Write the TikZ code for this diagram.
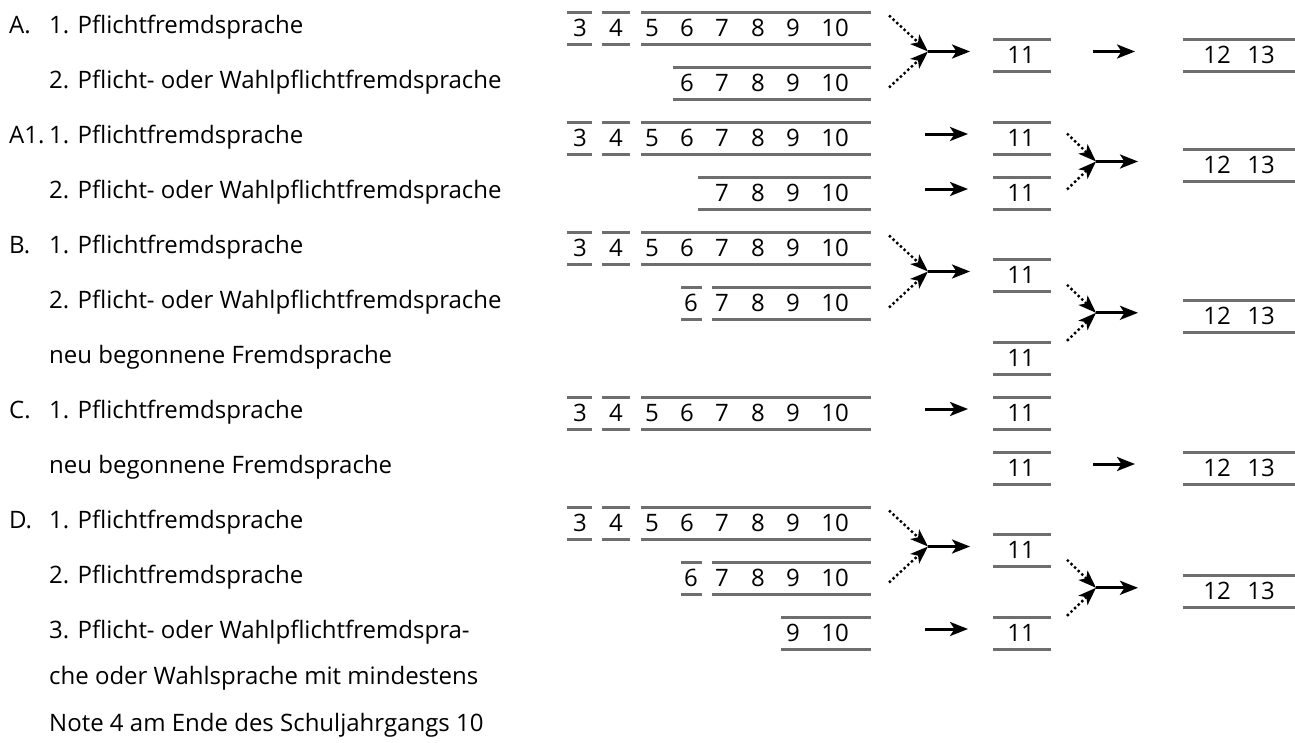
\documentclass[tikz,border=0pt]{standalone}
\usepackage{fontspec}
\setmainfont{Open Sans}
\usetikzlibrary{arrows.meta}

\tikzset{
  txt/.style={anchor=base west, inner sep=0pt, font=\fontsize{24}{24}\selectfont},
  num/.style={anchor=base, inner sep=0pt, font=\fontsize{24}{24}\selectfont},
  rule/.style={line width=3pt, draw=black!57},
  flow/.style={line width=3pt, -{Stealth[length=18pt,width=14pt,inset=4.5pt]}},
  feed/.style={line width=2.4pt, dash pattern=on 2.4pt off 2.6pt, -{Stealth[length=18pt,width=13pt,inset=4.5pt]}},
}

% box with "11" and box with "12 13"
\newcommand\eleven[2]{%
  \draw[rule] (993,{#2-16}) -- (1051,{#2-16}) (993,{#2+16}) -- (1051,{#2+16});
  \node[num] (#1) at (1021,{#2+8}) {11};}
\newcommand\twelve[2]{%
  \draw[rule] (1183,{#2-16}) -- (1295,{#2-16}) (1183,{#2+16}) -- (1295,{#2+16});
  \node[num] (#1a) at (1217,{#2+8}) {12};
  \node[num] (#1b) at (1261,{#2+8}) {13};}
% two dotted arrows meeting, then one arrow (a little above the box centre)
\newcommand\joinfirst[2]{%
  \coordinate (#1) at (928,{#2-4});
  \coordinate (#1u) at (889,{#2-40});
  \coordinate (#1d) at (889,{#2+32});
  \coordinate (#1e) at (970,{#2-4});
  \draw[feed] (#1u) -- (#1);
  \draw[feed] (#1d) -- (#1);
  \draw[flow] (#1) -- (#1e);}
\newcommand\joinsecond[2]{%
  \coordinate (#1) at (1096,{#2-4});
  \coordinate (#1u) at (1067,{#2-32});
  \coordinate (#1d) at (1067,{#2+24});
  \coordinate (#1e) at (1138,{#2-4});
  \draw[feed] (#1u) -- (#1);
  \draw[feed] (#1d) -- (#1);
  \draw[flow] (#1) -- (#1e);}
% single arrows
\newcommand\stepfirst[2]{%
  \coordinate (#1s) at (925,{#2-4}); \coordinate (#1e) at (968,{#2-4});
  \draw[flow] (#1s) -- (#1e);}
\newcommand\stepsecond[2]{%
  \coordinate (#1s) at (1093,{#2-4}); \coordinate (#1e) at (1135,{#2-4});
  \draw[flow] (#1s) -- (#1e);}

\begin{document}
\begin{tikzpicture}[x=1pt, y=-1pt]
  \useasboundingbox (0,0) rectangle (1295,742);

  % left column: labels and languages
  \foreach \i/\l in {0/A., 2/A1., 4/B., 7/C., 9/D.}
    \node[txt] (l\i) at (9,{33+55*\i}) {\l};
  \foreach \i/\t in {0/1. Pflichtfremdsprache,
                     1/2. Pflicht- oder Wahlpflichtfremdsprache,
                     2/1. Pflichtfremdsprache,
                     3/2. Pflicht- oder Wahlpflichtfremdsprache,
                     4/1. Pflichtfremdsprache,
                     5/2. Pflicht- oder Wahlpflichtfremdsprache,
                     6/neu begonnene Fremdsprache,
                     7/1. Pflichtfremdsprache,
                     8/neu begonnene Fremdsprache,
                     9/1. Pflichtfremdsprache,
                     10/2. Pflichtfremdsprache,
                     11/3. Pflicht- oder Wahlpflichtfremdspra-}
    \node[txt] (t\i) at (49,{33+55*\i}) {\t};
  \node[txt] (t12) at (49,684.5) {che oder Wahlsprache mit mindestens};
  \node[txt] (t13) at (49,731) {Note 4 am Ende des Schuljahrgangs 10};

  % draw full rows 3 ... 10
  \foreach \i in {0,2,4,7,9} {
    \pgfmathsetmacro\r{28+55*\i}
    \foreach \a/\b in {567/592,602/630,641/871}
      \draw[rule] (\a,\r-16) -- (\b,\r-16) (\a,\r+16) -- (\b,\r+16);
    \foreach \d/\x in {3/580,4/616,5/652,6/687,7/722,8/758,9/793,10/835}
      \node[num] (r\i-\d) at (\x,\r+8) {\d};
  }

  % draw the shorter rows
  \foreach \i/\bars/\digs in {1/{673/871}/{6/687,7/722,8/758,9/793,10/835},
                              3/{698/871}/{7/722,8/758,9/793,10/835},
                              5/{681/702,712/871}/{6/691,7/722,8/758,9/793,10/835},
                              10/{681/702,712/871}/{6/691,7/722,8/758,9/793,10/835},
                              11/{781/871}/{9/793,10/835}} {
    \pgfmathsetmacro\r{28+55*\i}
    \foreach \a/\b in \bars
      \draw[rule] (\a,\r-16) -- (\b,\r-16) (\a,\r+16) -- (\b,\r+16);
    \foreach \d/\x in \digs
      \node[num] (r\i-\d) at (\x,\r+8) {\d};
  }

  % A
  \joinfirst{ja}{55.5}
  \eleven{ea}{55.5}
  \stepsecond{sa}{55.5}
  \twelve{za}{55.5}

  % A1
  \stepfirst{pa}{138}
  \stepfirst{pb}{193}
  \eleven{eb}{138}
  \eleven{ec}{193}
  \joinsecond{kb}{165.5}
  \twelve{zb}{165.5}

  % B
  \joinfirst{jb}{275.5}
  \eleven{ed}{275.5}
  \eleven{ee}{358}
  \joinsecond{kc}{316.8}
  \twelve{zc}{316.8}

  % C
  \stepfirst{pc}{413}
  \eleven{ef}{413}
  \eleven{eg}{468}
  \stepsecond{sc}{468}
  \twelve{zd}{468}

  % D
  \joinfirst{jd}{550.5}
  \eleven{eh}{550.5}
  \stepfirst{pd}{633}
  \eleven{ei}{633}
  \joinsecond{kd}{591.8}
  \twelve{ze}{591.8}
\end{tikzpicture}
\end{document}
